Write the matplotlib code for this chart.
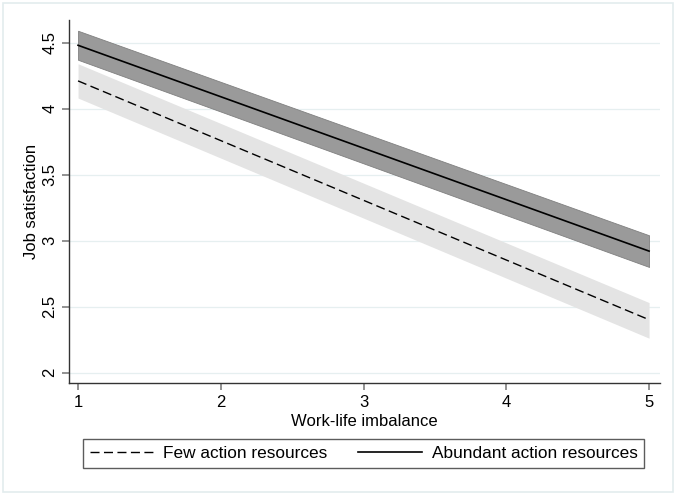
import numpy as np
import matplotlib.pyplot as plt
from matplotlib.patches import Rectangle

# predicted job satisfaction at work-life imbalance 1..5
x = [1, 5]
few_fit = [4.21, 2.40]
few_lo = [4.08, 2.26]
few_hi = [4.34, 2.53]
abund_fit = [4.48, 2.92]
abund_lo = [4.37, 2.80]
abund_hi = [4.59, 3.04]

plt.rcParams['font.family'] = ['Liberation Sans', 'DejaVu Sans']

fig = plt.figure(figsize=(6.77, 4.93), dpi=100)
ax = fig.add_axes([0.102, 0.223, 0.873, 0.736])

# grid
for v in [2, 2.5, 3, 3.5, 4, 4.5]:
    ax.axhline(v, color='#e6eff0', lw=0.9, zorder=0)

ax.fill_between(x, few_lo, few_hi, color='#e4e4e4', lw=0, zorder=1)
ax.fill_between(x, abund_lo, abund_hi, color='#9a9a9a', edgecolor='#808080', lw=0.6, zorder=2)
l1, = ax.plot(x, few_fit, color='black', lw=1.0, ls=(0, (6.5, 3.2)), zorder=3)
l2, = ax.plot(x, abund_fit, color='black', lw=1.2, zorder=3)

ax.set_xlim(0.937, 5.077)
ax.set_ylim(1.92, 4.67)
ax.set_xticks([1, 2, 3, 4, 5])
ax.set_yticks([2, 2.5, 3, 3.5, 4, 4.5])
ax.set_yticklabels(['2', '2.5', '3', '3.5', '4', '4.5'], rotation=90, va='center')
ax.tick_params(labelsize=12, color='#7f7f7f', length=5, width=1.2)
ax.set_xlabel('Work-life imbalance', fontsize=12, labelpad=3)
ax.set_ylabel('Job satisfaction', fontsize=12, labelpad=2)
for s in ['top', 'right']:
    ax.spines[s].set_visible(False)
for s in ['left', 'bottom']:
    ax.spines[s].set_color('#333333')
    ax.spines[s].set_linewidth(1.0)

leg = fig.legend([l1, l2], ['Few action resources', 'Abundant action resources'],
                 loc='upper left', bbox_to_anchor=(83 / 677, 1 - 439 / 493),
                 ncol=2, fontsize=12.4, frameon=True, fancybox=False, handlelength=3.7,
                 handletextpad=0.55, borderaxespad=0, borderpad=0.4, columnspacing=1.8)
leg.get_frame().set_edgecolor('#333333')
leg.get_frame().set_linewidth(1.0)

fig.patches.append(Rectangle((0.005, 0.003), 0.989, 0.99, transform=fig.transFigure,
                             fill=False, edgecolor='#e3ecee', lw=1.2))

fig.savefig('out.png', dpi=100)
